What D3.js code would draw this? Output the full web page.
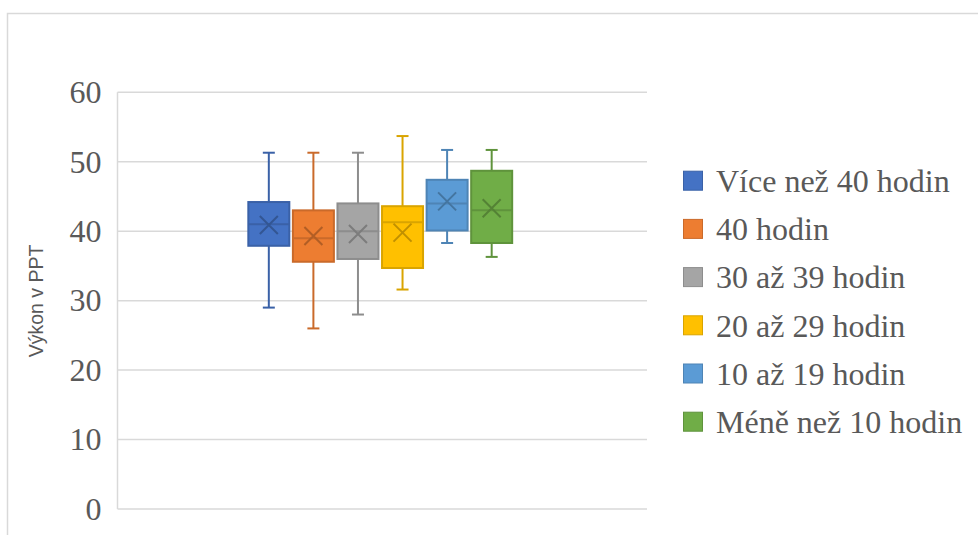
<!DOCTYPE html>
<html>
<head>
<meta charset="utf-8">
<script src="https://cdn.jsdelivr.net/npm/d3@7"></script>
<style>
  html, body { margin: 0; padding: 0; background: #fff; }
  svg { display: block; }
</style>
</head>
<body>
<svg id="chart" width="978" height="535"></svg>
<script>
// Working-hours groups and their performance summaries (box & whisker)
const seriesNames = ["Více než 40 hodin", "40 hodin", "30 až 39 hodin", "20 až 29 hodin", "10 až 19 hodin", "Méně než 10 hodin"];
const minVals    = [29.0, 26.0, 28.0, 31.6, 38.3, 36.3];
const q1Vals     = [37.9, 35.6, 36.0, 34.7, 40.1, 38.3];
const medianVals = [41.0, 39.0, 40.0, 41.3, 44.0, 43.0];
const q3Vals     = [44.2, 43.0, 44.0, 43.6, 47.4, 48.7];
const maxVals    = [51.3, 51.3, 51.3, 53.7, 51.7, 51.7];
const meanVals   = [40.9, 39.3, 39.6, 39.8, 44.3, 43.3];
const yTicks     = [0, 10, 20, 30, 40, 50, 60];
const axisTitle  = "Výkon v PPT";

const fills = ["#4472C4", "#ED7D31", "#A5A5A5", "#FFC000", "#5B9BD5", "#70AD47"];

const svg = d3.select("#chart");
const textColor = "#595959";
const gridColor = "#D9D9D9";
const serif = "'Liberation Serif', 'Times New Roman', serif";

// outer chart frame
svg.append("rect")
  .attr("x", 7.5).attr("y", 13.5)
  .attr("width", 972).attr("height", 530)
  .attr("fill", "none").attr("stroke", gridColor).attr("stroke-width", 1.5);

const plot = { left: 117.5, right: 647, top: 92.3, bottom: 509 };

const y = d3.scaleLinear().domain([0, 60]).range([plot.bottom, plot.top]);

const x0 = d3.scaleBand().domain(["all"]).range([plot.left, plot.right])
  .paddingInner(0).paddingOuter(0.49);
const x1 = d3.scaleBand().domain(seriesNames)
  .range([x0("all") - 2, x0("all") - 2 + x0.bandwidth()])
  .paddingInner(0.08).paddingOuter(0.04);

// gridlines
svg.append("g").selectAll("line").data(yTicks).join("line")
  .attr("x1", plot.left).attr("x2", plot.right)
  .attr("y1", d => y(d)).attr("y2", d => y(d))
  .attr("stroke", gridColor).attr("stroke-width", 1.5);

// vertical axis line
svg.append("line")
  .attr("x1", plot.left).attr("x2", plot.left)
  .attr("y1", plot.top).attr("y2", plot.bottom)
  .attr("stroke", gridColor).attr("stroke-width", 1.5);

// tick labels via d3 axis
const yAxis = d3.axisLeft(y).tickValues(yTicks).tickSize(0).tickPadding(16);
const gAxis = svg.append("g").attr("transform", `translate(${plot.left},0)`).call(yAxis);
gAxis.select(".domain").remove();
gAxis.selectAll("text")
  .attr("font-family", serif).attr("font-size", 32)
  .attr("fill", textColor);

// axis title
svg.append("text")
  .attr("transform", "translate(43,301) rotate(-90)")
  .attr("text-anchor", "middle")
  .attr("font-family", "'Liberation Sans', Arial, sans-serif")
  .attr("font-size", 19.5)
  .attr("fill", textColor)
  .text(axisTitle);

// boxes
const rows = seriesNames.map((name, i) => ({
  name, fill: fills[i], stroke: d3.color(fills[i]).darker(0.45).formatHex(),
  min: minVals[i], q1: q1Vals[i], med: medianVals[i], q3: q3Vals[i], max: maxVals[i], mean: meanVals[i]
}));

const bw = x1.bandwidth();
const g = svg.append("g").selectAll("g").data(rows).join("g")
  .attr("transform", d => `translate(${x1(d.name)},0)`);

// whiskers
g.append("line").attr("x1", bw / 2).attr("x2", bw / 2)
  .attr("y1", d => y(d.max)).attr("y2", d => y(d.q3))
  .attr("stroke", d => d.stroke).attr("stroke-width", 2);
g.append("line").attr("x1", bw / 2).attr("x2", bw / 2)
  .attr("y1", d => y(d.q1)).attr("y2", d => y(d.min))
  .attr("stroke", d => d.stroke).attr("stroke-width", 2);
// whisker caps
g.append("line").attr("x1", bw / 2 - 6).attr("x2", bw / 2 + 6)
  .attr("y1", d => y(d.max)).attr("y2", d => y(d.max))
  .attr("stroke", d => d.stroke).attr("stroke-width", 2);
g.append("line").attr("x1", bw / 2 - 6).attr("x2", bw / 2 + 6)
  .attr("y1", d => y(d.min)).attr("y2", d => y(d.min))
  .attr("stroke", d => d.stroke).attr("stroke-width", 2);

// box
g.append("rect")
  .attr("x", 0).attr("width", bw)
  .attr("y", d => y(d.q3)).attr("height", d => y(d.q1) - y(d.q3))
  .attr("fill", d => d.fill).attr("stroke", d => d.stroke).attr("stroke-width", 2);

// median
g.append("line").attr("x1", 0).attr("x2", bw)
  .attr("y1", d => y(d.med)).attr("y2", d => y(d.med))
  .attr("stroke", d => d.stroke).attr("stroke-width", 2);

// mean marker
const mk = 9;
g.append("path")
  .attr("d", d => {
    const cx = bw / 2, cy = y(d.mean);
    return `M${cx - mk},${cy - mk}L${cx + mk},${cy + mk}M${cx - mk},${cy + mk}L${cx + mk},${cy - mk}`;
  })
  .attr("stroke", d => d3.color(d.fill).darker(0.8).formatHex())
  .attr("stroke-width", 2).attr("fill", "none");

// legend
const legend = svg.append("g").selectAll("g").data(rows).join("g")
  .attr("transform", (d, i) => `translate(683,${180.7 + i * 48.2})`);
legend.append("rect")
  .attr("x", 0.5).attr("y", -9.5).attr("width", 19).attr("height", 19)
  .attr("fill", d => d.fill).attr("stroke", d => d.stroke).attr("stroke-width", 1);
legend.append("text")
  .attr("x", 33).attr("y", 0).attr("dy", "0.35em")
  .attr("font-family", serif).attr("font-size", 32)
  .attr("fill", textColor)
  .text(d => d.name);
</script>
</body>
</html>
